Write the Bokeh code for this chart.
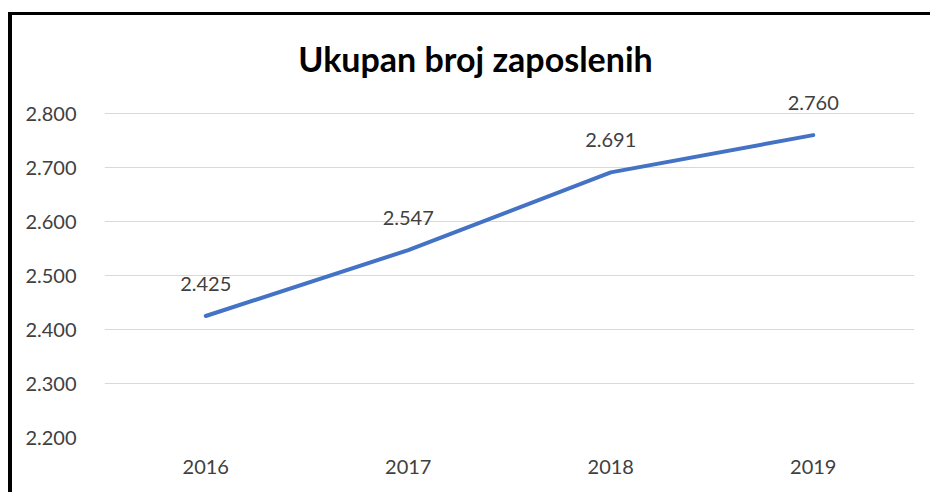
from bokeh.plotting import figure
from bokeh.models import (ColumnDataSource, LabelSet, Label, FixedTicker, Range1d,
                          FactorRange, Spacer, GlobalInlineStyleSheet)
from bokeh.layouts import row, column
from bokeh.core.properties import value
from bokeh.embed import file_html
from bokeh.resources import INLINE

# ---- data ----
title_text = "Ukupan broj zaposlenih"
years = ["2016", "2017", "2018", "2019"]
employees = [2425, 2547, 2691, 2760]
y_ticks = [2200, 2300, 2400, 2500, 2600, 2700, 2800]
y_tick_labels = ["2.200", "2.300", "2.400", "2.500", "2.600", "2.700", "2.800"]

FONT = "Lato"
TEXT = "#404040"

labels = [f"{v:,}".replace(",", ".") for v in employees]
src = ColumnDataSource(dict(x=years, y=employees, label=labels))

# layout geometry (pixels)
W, H = 918, 477
FRAME_L, FRAME_R, FRAME_B = 92, 16, 55
PX_PER_100 = 54.0
TOP_GRID_PX = 98  # distance from canvas top to the 2.800 gridline
y_end = 2800 + 100 * TOP_GRID_PX / PX_PER_100

p = figure(width=W, height=H, output_backend="svg", toolbar_location=None,
           x_range=FactorRange(*years), y_range=Range1d(2200, y_end),
           min_border_left=FRAME_L, min_border_right=FRAME_R, min_border_top=0,
           min_border_bottom=FRAME_B)
p.outline_line_color = None
p.background_fill_color = "white"
p.border_fill_color = "white"

p.line("x", "y", source=src, line_width=4, line_color="#4472C4",
       line_cap="round", line_join="round")

p.add_layout(LabelSet(x="x", y="y", text="label", source=src, y_offset=25,
                      text_align="center", text_baseline="alphabetic",
                      text_font=value(FONT), text_font_size=value("20px"),
                      text_color=TEXT))

# title centred over the chart area (x in category units, y in value units)
p.add_layout(Label(x=1.832, y=2800 + 100 * 55 / PX_PER_100, text=title_text,
                   text_align="center", text_baseline="alphabetic",
                   text_font=FONT, text_font_size="34px",
                   text_font_style="bold", text_color="#000000"))

p.xgrid.grid_line_color = None
p.ygrid.grid_line_color = "#d9d9d9"
p.ygrid.grid_line_width = 1

p.yaxis.ticker = FixedTicker(ticks=y_ticks)
p.yaxis.major_label_overrides = {t: l for t, l in zip(y_ticks, y_tick_labels)}
for ax in (p.xaxis[0], p.yaxis[0]):
    ax.axis_line_color = None
    ax.major_tick_line_color = None
    ax.minor_tick_line_color = None
    ax.major_label_text_font = FONT
    ax.major_label_text_font_size = "20px"
    ax.major_label_text_color = TEXT
p.yaxis.major_label_standoff = 22
p.xaxis.major_label_standoff = 16

# chart-area border (left and top edges) and offsets, built from spacers
black = {"background-color": "#000000"}
top_bar = Spacer(width=W + 4, height=3, styles=black)
left_bar = Spacer(width=4, height=H, styles=black)
chart = column(top_bar, row(left_bar, p, spacing=0), spacing=0)
layout = column(Spacer(width=10, height=12),
                row(Spacer(width=8, height=10), chart, spacing=0),
                spacing=0)
layout.stylesheets = [GlobalInlineStyleSheet(css="html, body { overflow: hidden; }")]

open("out.html", "w").write(file_html(layout, INLINE))
